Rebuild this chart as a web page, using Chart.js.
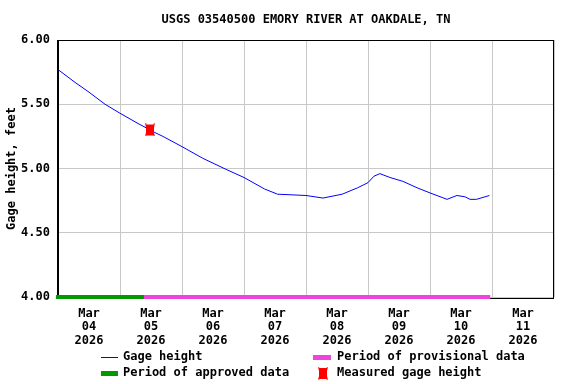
<!DOCTYPE html>
<html>
<head>
<meta charset="utf-8">
<script src="https://cdn.jsdelivr.net/npm/chart.js@4/dist/chart.umd.min.js"></script>
<style>
  html, body { margin: 0; padding: 0; background: #fff; }
  #wrap { width: 576px; height: 384px; }
</style>
</head>
<body>
<div id="wrap"><canvas id="gageChart" width="576" height="384"></canvas></div>
<script>
// hours since Mar 04 2026 00:00, gage height in feet
const hours = [0, 6.6, 11.6, 18.2, 24, 31, 37.5, 40.6, 48, 56, 65.4, 72, 80, 85, 96, 102.6,
               110, 116, 120, 122.3, 124.6, 128.5, 133.5, 139, 144, 150.6, 154.4, 157.5, 159.5, 162, 167];
const gageHeight = [5.77, 5.67, 5.60, 5.50, 5.43, 5.35, 5.28, 5.25, 5.17, 5.08, 4.99, 4.93, 4.84, 4.80, 4.79, 4.77,
                    4.80, 4.85, 4.89, 4.94, 4.96, 4.93, 4.90, 4.85, 4.81, 4.76, 4.79, 4.78, 4.76, 4.76, 4.79];
const approvedPeriod = [-0.8, 33.3];
const provisionalPeriod = [33.3, 167.3];
const measuredHour = [35.6];
const measuredHeight = [5.30];
const dayLabels = ['04', '05', '06', '07', '08', '09', '10', '11'];
const monthLabel = 'Mar';
const yearLabel = '2026';
const yTicks = [4.0, 4.5, 5.0, 5.5, 6.0];

const titleText = 'USGS 03540500 EMORY RIVER AT OAKDALE, TN';
const fontFamily = '"DejaVu Sans Mono", "Liberation Mono", monospace';

const BLUE = '#0000ff';
const GREEN = '#009900';
const PINK = '#ee44dd';
const RED = '#ff0000';
const GRID = '#c8c8c8';

// red measured-height marker (little bowtie)
function makeMarker() {
    const c = document.createElement('canvas');
    c.width = 10; c.height = 13;
    const g = c.getContext('2d');
    g.fillStyle = RED;
    g.beginPath();
    g.moveTo(0, 0); g.lineTo(2, 1); g.lineTo(8, 1); g.lineTo(10, 0);
    g.lineTo(9, 4); g.lineTo(9, 9); g.lineTo(10, 13);
    g.lineTo(8, 12); g.lineTo(2, 12); g.lineTo(0, 13);
    g.lineTo(1, 9); g.lineTo(1, 4);
    g.closePath();
    g.fill();
    return c;
}
const marker = makeMarker();

const periodLine = (period) => period.map(h => ({x: h, y: 4.0}));

const framePlugin = {
    id: 'frame',
    beforeDatasetsDraw(chart) {
        const ctx = chart.ctx;
        const a = chart.chartArea;
        ctx.save();
        ctx.strokeStyle = '#000';
        ctx.fillStyle = '#000';
        ctx.lineWidth = 1;
        ctx.strokeRect(a.left + 0.5, a.top + 0.5, a.right - a.left - 1, a.bottom - a.top + 1);
        ctx.fillRect(a.left - 1, a.top, 1, a.bottom - a.top + 2);
        ctx.restore();
    },
    afterDraw(chart) {
        const ctx = chart.ctx;
        const a = chart.chartArea;
        ctx.save();
        // title
        ctx.fillStyle = '#000';
        ctx.font = 'bold 12px ' + fontFamily;
        ctx.textAlign = 'center';
        ctx.textBaseline = 'middle';
        ctx.fillText(titleText, (a.left + a.right) / 2, 20);

        // legend
        ctx.textAlign = 'left';
        const row1 = 357, row2 = 373;
        ctx.strokeStyle = BLUE; ctx.lineWidth = 1;
        ctx.beginPath(); ctx.moveTo(101, row1 + 0.5); ctx.lineTo(118, row1 + 0.5); ctx.stroke();
        ctx.fillText('Gage height', 123, row1);
        ctx.fillStyle = GREEN;
        ctx.fillRect(101, row2 - 2, 17, 5);
        ctx.fillStyle = '#000';
        ctx.fillText('Period of approved data', 123, row2);
        ctx.fillStyle = PINK;
        ctx.fillRect(313, row1 - 2, 18, 5);
        ctx.fillStyle = '#000';
        ctx.fillText('Period of provisional data', 337, row1);
        ctx.drawImage(marker, 318, row2 - 6);
        ctx.fillText('Measured gage height', 337, row2);
        ctx.restore();
    }
};

new Chart(document.getElementById('gageChart'), {
    type: 'line',
    data: {
        datasets: [
            {
                label: 'Period of approved data',
                data: periodLine(approvedPeriod),
                borderColor: GREEN,
                borderWidth: 4,
                pointRadius: 0,
                clip: false,
                order: 3
            },
            {
                label: 'Period of provisional data',
                data: periodLine(provisionalPeriod),
                borderColor: PINK,
                borderWidth: 4,
                pointRadius: 0,
                clip: false,
                order: 3
            },
            {
                label: 'Gage height',
                data: hours.map((h, i) => ({x: h, y: gageHeight[i]})),
                borderColor: BLUE,
                borderWidth: 1,
                pointRadius: 0,
                tension: 0,
                order: 2
            },
            {
                label: 'Measured gage height',
                data: measuredHour.map((h, i) => ({x: h, y: measuredHeight[i]})),
                showLine: false,
                pointStyle: marker,
                pointRadius: 6,
                order: 1
            }
        ]
    },
    options: {
        responsive: false,
        animation: false,
        layout: {padding: {top: 40, right: 22, left: 0, bottom: 0}},
        plugins: {
            legend: {display: false},
            title: {display: false},
            tooltip: {enabled: false}
        },
        scales: {
            x: {
                type: 'linear',
                min: 0,
                max: dayLabels.length * 24,
                afterBuildTicks: (scale) => {
                    const t = [];
                    for (let v = 0; v <= dayLabels.length * 24; v += 12) t.push({value: v});
                    scale.ticks = t;
                },
                afterFit: (scale) => { scale.height = 87; },
                grid: {
                    drawTicks: false,
                    color: (ctx) => (ctx.tick && ctx.tick.value % 24 === 0) ? GRID : 'rgba(0,0,0,0)'
                },
                border: {display: false},
                ticks: {
                    autoSkip: false,
                    maxRotation: 0,
                    padding: 10,
                    color: '#000',
                    font: {family: fontFamily, size: 12, weight: 'bold', lineHeight: 1.12},
                    callback: (v) => {
                        if (v % 24 !== 12) return '';
                        return [monthLabel, dayLabels[Math.floor(v / 24)], yearLabel];
                    }
                }
            },
            y: {
                min: 4,
                max: 6,
                afterBuildTicks: (scale) => { scale.ticks = yTicks.map(v => ({value: v})); },
                afterFit: (scale) => { scale.width = 58; },
                grid: {drawTicks: false, color: GRID},
                border: {display: false},
                title: {
                    display: true,
                    text: 'Gage height, feet',
                    color: '#000',
                    padding: {top: 5, bottom: 0},
                    font: {family: fontFamily, size: 12, weight: 'bold'}
                },
                ticks: {
                    padding: 8,
                    color: '#000',
                    font: {family: fontFamily, size: 12, weight: 'bold'},
                    callback: (v) => Number(v).toFixed(2)
                }
            }
        }
    },
    plugins: [framePlugin]
});
</script>
</body>
</html>
